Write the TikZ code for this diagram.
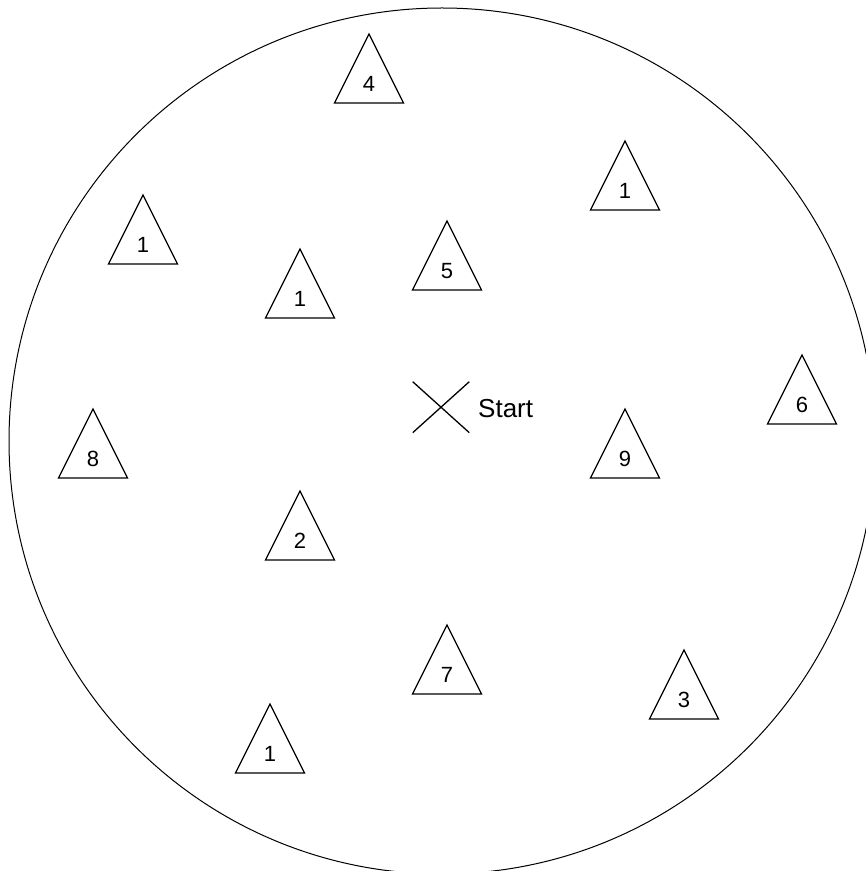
\documentclass[tikz,border=0pt]{standalone}
\usepackage{fontspec}
\setmainfont{Liberation Sans}
\usetikzlibrary{calc}
\tikzset{
  triline/.style={draw=black, line width=1.3pt, line join=miter},
  lbl/.style={inner sep=0pt, anchor=base, font=\fontsize{22}{26}\selectfont},
  startlbl/.style={inner sep=0pt, anchor=base west, font=\fontsize{26}{30}\selectfont},
  ring/.style={draw=black, line width=1pt},
  cross/.style={draw=black, line width=1.3pt}
}
\newcommand{\mytri}[4]{%
  \coordinate (#1) at (#2,{871-#3});
  \draw[triline] (#1) -- ++(-34.5,-69) -- ++(69,0) -- cycle;
  \node[lbl] (#1l) at ($(#1)+(0,-58)$) {#4};
}
\begin{document}
\begin{tikzpicture}[x=1pt,y=1pt]
\useasboundingbox (0,0) rectangle (866,871);
\clip (0,0) rectangle (866,871);
\fill[white] (0,0) rectangle (866,871);
\node[ring, circle, minimum size=866pt, inner sep=0pt] (arena) at (442,{871-441}) {};
\mytri{ta}{369}{34}{4}
\mytri{tb}{625}{141}{1}
\mytri{tc}{143}{195}{1}
\mytri{td}{300}{249}{1}
\mytri{te}{447}{221}{5}
\mytri{tf}{802}{355}{6}
\mytri{tg}{93}{409}{8}
\mytri{th}{625}{409}{9}
\mytri{ti}{300}{491}{2}
\mytri{tj}{447}{625}{7}
\mytri{tk}{684}{650}{3}
\mytri{tl}{270}{704}{1}
\coordinate (x1) at (412.7,{871-381.7});
\coordinate (x2) at (469.3,{871-432.7});
\coordinate (x3) at (412.7,{871-432.7});
\coordinate (x4) at (469.3,{871-381.7});
\draw[cross] (x1) -- (x2);
\draw[cross] (x3) -- (x4);
\node[startlbl] (start) at (478,{871-418}) {Start};
\end{tikzpicture}
\end{document}
